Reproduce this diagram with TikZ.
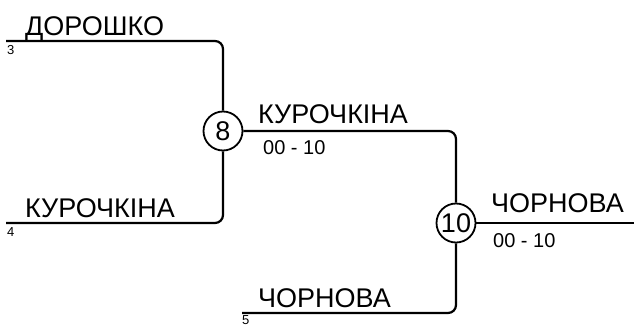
\documentclass[tikz,border=0pt]{standalone}
\usepackage{fontspec}
\setmainfont{Liberation Sans}
\usetikzlibrary{positioning}

\begin{document}
\begin{tikzpicture}[x=1pt, y=-1pt,
    wire/.style={line width=2.2pt, rounded corners=8pt},
    bout/.style={circle, draw, line width=1.8pt, minimum size=39pt, inner sep=0pt, fill=white,
        font=\fontsize{27}{27}\selectfont},
    player/.style={anchor=base west, inner sep=0pt, font=\fontsize{27}{27}\selectfont},
    score/.style={anchor=north west, inner sep=0pt, font=\fontsize{20}{20}\selectfont},
    seed/.style={anchor=north west, inner sep=0pt, font=\fontsize{13}{13}\selectfont}]
    \useasboundingbox (0,0) rectangle (634,327);
    % bouts
    \node[bout] (b8) at (223,131) {8};
    \node[bout] (b10) at (456,223) {10};
    % free ends
    \coordinate (s3) at (6,41);
    \coordinate (s4) at (6,223);
    \coordinate (s5) at (242,313);
    \coordinate (fin) at (634,223);
    % wires
    \draw[wire] (s3) -- (b8.north |- s3) -- (b8.north);
    \draw[wire] (s4) -- (b8.south |- s4) -- (b8.south);
    \draw[wire] (b8.east) -- (b10.north |- b8.east) -- (b10.north);
    \draw[wire] (s5) -- (b10.south |- s5) -- (b10.south);
    \draw[wire] (b10.east) -- (fin);
    % names
    \node[player] (n3) at (25,35) {ДОРОШКО};
    \node[player] (n4) at (25,217) {КУРОЧКІНА};
    \node[player] (n5) at (258,307) {ЧОРНОВА};
    \node[player] (w8) at (258,123) {КУРОЧКІНА};
    \node[player] (w10) at (491,212) {ЧОРНОВА};
    % scores
    \node[score] (r8) at (263,140) {00 - 10};
    \node[score] (r10) at (493,233) {00 - 10};
    % seeds
    \node[seed] (k3) at (7,45) {3};
    \node[seed] (k4) at (7,227) {4};
    \node[seed] (k5) at (242,315) {5};
\end{tikzpicture}
\end{document}
